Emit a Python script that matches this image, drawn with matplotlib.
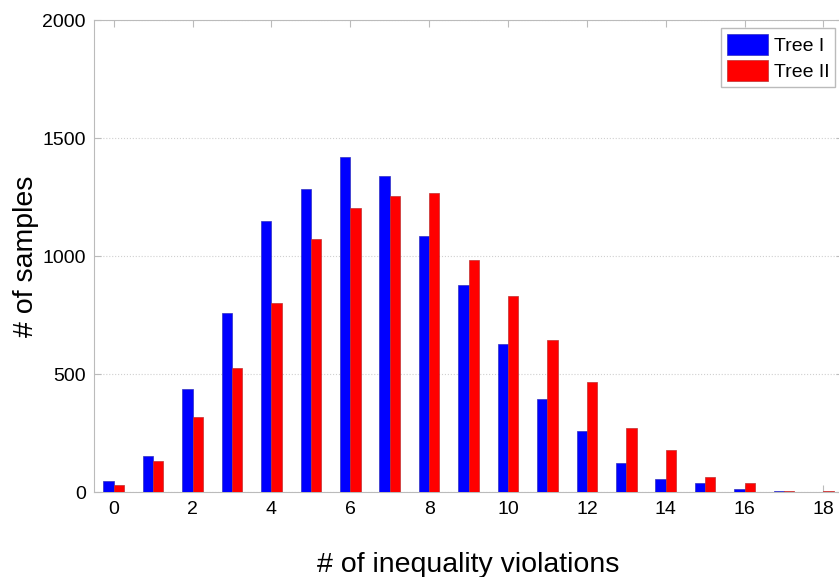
import numpy as np
import matplotlib.pyplot as plt

plt.rcParams['font.family'] = ['Liberation Sans', 'DejaVu Sans']

violations = np.arange(0, 19)
tree1 = [48, 155, 436, 758, 1148, 1284, 1419, 1339, 1085, 877, 627, 394, 260, 124, 56, 41, 13, 5, 0]
tree2 = [30, 133, 318, 525, 801, 1072, 1203, 1254, 1267, 983, 830, 644, 466, 274, 177, 64, 40, 4, 3]

fig = plt.figure(figsize=(8.39, 5.77), dpi=100)
ax = fig.add_axes([0.112, 0.147, 0.893, 0.818])

w = 0.26
ax.bar(violations - w / 2, tree1, width=w, color='#0000ff', edgecolor='#3030c0', linewidth=0.5, label='Tree I', zorder=3)
ax.bar(violations + w / 2, tree2, width=w, color='#ff0000', edgecolor='#c03030', linewidth=0.5, label='Tree II', zorder=3)

ax.set_xlim(-0.5, 18.5)
ax.set_ylim(0, 2000)
ax.set_xticks(range(0, 19, 2))
ax.set_yticks([0, 500, 1000, 1500, 2000])
ax.yaxis.grid(True, linestyle=':', color='#d0d0d0', linewidth=0.8, zorder=0)
for s in ax.spines.values():
    s.set_color('#bbbbbb')
ax.tick_params(direction='in', top=True, right=True, color='#bbbbbb', labelsize=14, length=5, pad=6)

ax.set_xlabel('# of inequality violations', fontsize=20.5, labelpad=25)
ax.set_ylabel('# of samples', fontsize=20.5, labelpad=2)

leg = ax.legend(loc='upper right', fontsize=14, handlelength=2.1, handleheight=1.3,
                fancybox=False, framealpha=1, edgecolor='#bbbbbb', borderaxespad=0.4,
                handletextpad=0.3, labelspacing=0.25, borderpad=0.3)

fig.savefig('out.png', dpi=100)
